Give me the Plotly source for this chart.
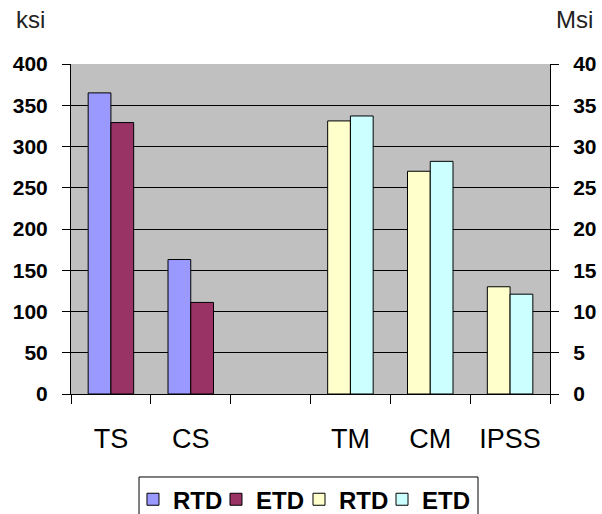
import plotly.graph_objects as go

categories = ["TS", "CS", " ", "TM", "CM", "IPSS"]
strength_cats = ["TS", "CS"]
strength_rtd = [365, 163]
strength_etd = [329, 111]
modulus_cats = ["TM", "CM", "IPSS"]
modulus_rtd = [33.1, 27.0, 13.0]
modulus_etd = [33.7, 28.2, 12.1]
series_names = ["RTD", "ETD", "RTD", "ETD"]
colors = ["#9999FF", "#993366", "#FFFFCC", "#CCFFFF"]

fig = go.Figure()
fig.add_trace(go.Bar(x=strength_cats, y=strength_rtd, name=series_names[0], legend="legend",
                     marker=dict(color=colors[0], line=dict(color="black", width=1))))
fig.add_trace(go.Bar(x=strength_cats, y=strength_etd, name=series_names[1], legend="legend2",
                     marker=dict(color=colors[1], line=dict(color="black", width=1))))
fig.add_trace(go.Bar(x=modulus_cats, y=modulus_rtd, name=series_names[2], yaxis="y2",
                     legend="legend3",
                     marker=dict(color=colors[2], line=dict(color="black", width=1))))
fig.add_trace(go.Bar(x=modulus_cats, y=modulus_etd, name=series_names[3], yaxis="y2",
                     legend="legend4",
                     marker=dict(color=colors[3], line=dict(color="black", width=1))))

tickfont = dict(family="Arial", size=21, color="black", weight="bold")


def legend_at(xpos):
    return dict(orientation="h", x=xpos, xanchor="left", y=-0.252, yanchor="top",
                bgcolor="rgba(0,0,0,0)", borderwidth=0, itemwidth=30,
                font=dict(family="Arial", size=24, color="black", weight="bold"))


fig.update_layout(
    width=602, height=514,
    margin=dict(l=71, r=52, t=64, b=120, autoexpand=False),
    paper_bgcolor="white",
    plot_bgcolor="#C0C0C0",
    barmode="group",
    bargap=0.43,
    bargroupgap=0,
    showlegend=True,
    legend=legend_at(0.1294),
    legend2=legend_at(0.3027),
    legend3=legend_at(0.4760),
    legend4=legend_at(0.6493),
    shapes=[dict(type="rect", xref="paper", yref="paper", x0=0.142, x1=0.8497,
                 y0=-0.2515, y1=-0.39, line=dict(color="black", width=1),
                 fillcolor="white", layer="above")],
    xaxis=dict(type="category", categoryorder="array", categoryarray=categories,
               range=[-0.5, 5.5], tickson="boundaries", ticks="outside", ticklen=9,
               tickcolor="black", showline=True, linecolor="black", linewidth=1,
               showgrid=False, ticklabelstandoff=21,
               tickfont=dict(family="Arial", size=27, color="black")),
    yaxis=dict(range=[0, 400], dtick=50, ticks="outside", ticklen=8, tickcolor="black",
               showline=True, linecolor="black", linewidth=1,
               showgrid=True, gridcolor="black", gridwidth=1, zeroline=False,
               ticklabelstandoff=10, tickfont=tickfont),
    yaxis2=dict(range=[0, 40], dtick=5, overlaying="y", side="right", ticks="outside",
                ticklen=8, tickcolor="black", showline=True, linecolor="black", linewidth=1,
                showgrid=False, zeroline=False, ticklabelstandoff=10, tickfont=tickfont),
    annotations=[
        dict(text="ksi", xref="paper", yref="paper", x=-0.12, y=1.135, xanchor="left",
             yanchor="middle", showarrow=False,
             font=dict(family="Arial", size=24, color="#222222")),
        dict(text="Msi", xref="paper", yref="paper", x=1.094, y=1.135, xanchor="right",
             yanchor="middle", showarrow=False,
             font=dict(family="Arial", size=24, color="#222222")),
    ],
)

fig.write_html("out.html", config={"displayModeBar": False},
               post_script="document.body.style.margin='0px';")
